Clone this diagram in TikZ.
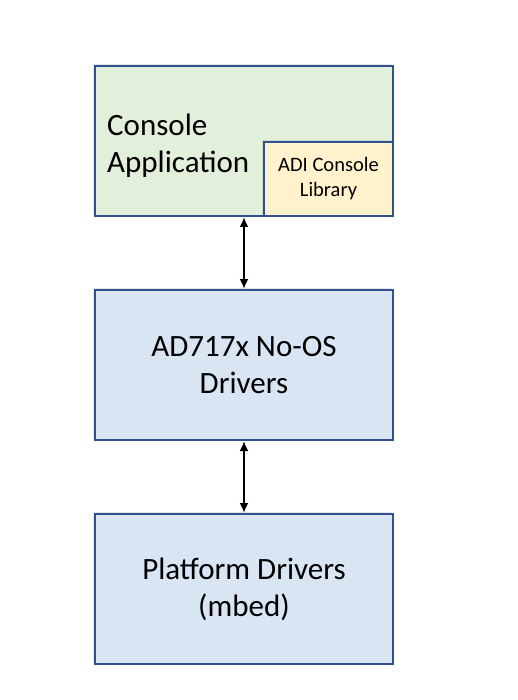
\documentclass[tikz,border=0pt]{standalone}
\usepackage{fontspec}
\setmainfont{Carlito}
\usetikzlibrary{arrows.meta,shadows}

\definecolor{boxline}{HTML}{2F528F}
\definecolor{appfill}{HTML}{E2EFDA}
\definecolor{libfill}{HTML}{FFF2CC}
\definecolor{drvfill}{HTML}{DAE5F4}

\begin{document}
\begin{tikzpicture}[x=1pt,y=-1pt,
    layer_box/.style={draw=boxline,line width=2pt,minimum width=298pt,minimum height=150pt,inner sep=0pt,
        drop shadow={opacity=0.2,shadow xshift=-2pt,shadow yshift=2pt}},
    big_text/.style={font=\fontsize{31}{37}\selectfont,align=center,inner sep=0pt},
    link_arrow/.style={line width=2pt,{Latex[length=10pt,width=9pt]}-{Latex[length=10pt,width=9pt]}}]
    \useasboundingbox (0,0) rectangle (517,700);
    \node[layer_box,fill=appfill] (app) at (244,141) {};
    \node[big_text,align=left,anchor=west] (app_text) at (107,146) {Console\\Application};
    \node[draw=boxline,line width=2pt,fill=libfill,minimum width=129pt,minimum height=74pt,inner sep=0pt,
        font=\fontsize{20.5}{25}\selectfont,align=center,
        drop shadow={opacity=0.2,shadow xshift=-2pt,shadow yshift=2pt}] (lib) at (328.5,179) {ADI Console\\Library};
    \node[layer_box,fill=drvfill,big_text] (drv) at (244,365) {AD717x No-OS\\Drivers};
    \node[layer_box,fill=drvfill,big_text] (plat) at (244,589) {Platform Drivers\\(mbed)};
    \draw[link_arrow] (app.south) -- (drv.north);
    \draw[link_arrow] (drv.south) -- (plat.north);
\end{tikzpicture}
\end{document}
